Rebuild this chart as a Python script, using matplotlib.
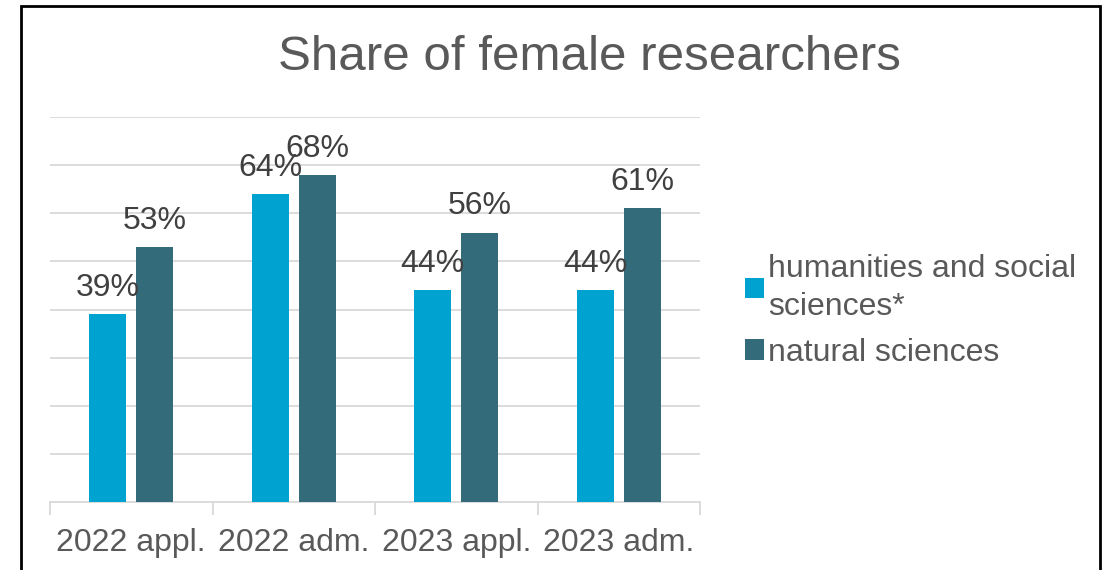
import matplotlib
matplotlib.use("Agg")
import matplotlib.pyplot as plt
import numpy as np
from matplotlib.patches import Rectangle

categories = ["2022 appl.", "2022 adm.", "2023 appl.", "2023 adm."]
humanities = [39, 64, 44, 44]
natural = [53, 68, 56, 61]
series_names = ["humanities and social\nsciences*", "natural sciences"]

plt.rcParams["font.family"] = ["Liberation Sans", "DejaVu Sans"]

W, H = 1107, 570
fig = plt.figure(figsize=(W / 100, H / 100), dpi=100)
ax = fig.add_axes([50 / W, (H - 502) / H, 650 / W, 385 / H])

x = np.arange(len(categories))
bw = 0.227
off = 0.144
b1 = ax.bar(x - off, humanities, bw, color="#00A3D0", label=series_names[0], zorder=3)
b2 = ax.bar(x + off, natural, bw, color="#336B7A", label=series_names[1], zorder=3)

for bars, vals in [(b1, humanities), (b2, natural)]:
    for rect, v in zip(bars, vals):
        ax.annotate(f"{v}%", (rect.get_x() + rect.get_width() / 2, rect.get_height()),
                    xytext=(0, 8), textcoords="offset points", ha="center", va="bottom",
                    fontsize=23, color="#404040", zorder=4, annotation_clip=False)

ax.set_xlim(-0.5, len(categories) - 0.5)
ax.set_ylim(0, 80)
ax.set_yticks(np.arange(10, 90, 10))
ax.set_yticklabels([])
ax.tick_params(axis="y", length=0)
ax.grid(axis="y", color="#D9D9D9", linewidth=1.3, zorder=0)

ax.set_xticks(x)
ax.set_xticklabels(categories, fontsize=23, color="#595959")
ax.set_xticks(np.arange(-0.5, len(categories), 1), minor=True)
ax.tick_params(axis="x", which="major", length=0, pad=19)
ax.tick_params(axis="x", which="minor", length=9, color="#D9D9D9", width=1.3)

for s in ["top", "right", "left"]:
    ax.spines[s].set_visible(False)
ax.spines["bottom"].set_color("#D9D9D9")
ax.spines["bottom"].set_linewidth(1.3)

fig.text(589 / W, 1 - 57 / H, "Share of female researchers", ha="center", va="center",
         fontsize=35.5, color="#595959")

leg = fig.legend(handles=[b1, b2], loc="upper left", bbox_to_anchor=(716 / W, 1 - 225 / H),
                 frameon=False, fontsize=23, handlelength=0.6, handleheight=0.6,
                 handletextpad=0.12, labelspacing=0.5, labelcolor="#595959")
for t in leg.get_texts():
    t.set_linespacing(1.35)

fig.patches.append(Rectangle((21 / W, -0.05), 1079 / W, 1.05 - 6 / H, transform=fig.transFigure,
                             fill=False, edgecolor="black", linewidth=2))

fig.savefig("out.png", dpi=100)
